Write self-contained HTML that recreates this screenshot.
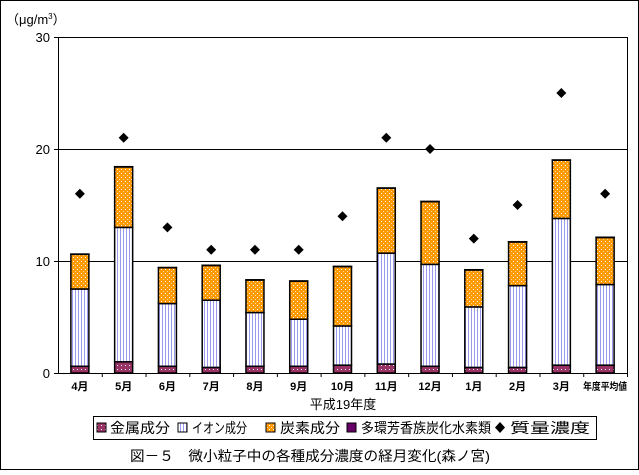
<!DOCTYPE html>
<html><head><meta charset="utf-8"><style>
body{margin:0;background:#fff}
svg text{font-family:"Liberation Sans","Noto Sans CJK JP",sans-serif}
</style></head><body>
<svg width="639" height="470" viewBox="0 0 639 470" xmlns="http://www.w3.org/2000/svg">
<defs>
<pattern id="pm" width="4" height="4" patternUnits="userSpaceOnUse"><rect width="4" height="4" fill="#993366"/><rect x="1" y="1" width="1" height="1" fill="#fff"/></pattern>
<pattern id="pi" width="3" height="3" patternUnits="userSpaceOnUse"><rect width="3" height="3" fill="#fff"/><rect width="1" height="3" fill="#9999ee"/></pattern>
<pattern id="pc" width="4" height="4" patternUnits="userSpaceOnUse"><rect width="4" height="4" fill="#ff9900"/><rect x="1" y="1" width="1" height="1" fill="#fff"/><rect x="3" y="3" width="1" height="1" fill="#ffdd99"/></pattern>
</defs>
<rect x="0.5" y="0.5" width="638" height="469" fill="#fff" stroke="#000"/>
<g id="plot"></g>
<text x="6" y="24" font-size="13">（μg/m<tspan font-size="8" dy="-5">3</tspan><tspan dy="5">）</tspan></text>
<text x="343" y="409" font-size="13" text-anchor="middle">平成19年度</text>
<g>
<rect x="93.5" y="416.5" width="503" height="23" fill="#fff" stroke="#000"/>
<rect x="97" y="423" width="9" height="9" fill="url(#pm)" stroke="#000"/>
<text x="110" y="433" font-size="14" textLength="60" lengthAdjust="spacingAndGlyphs">金属成分</text>
<rect x="178" y="423" width="9" height="9" fill="url(#pi)" stroke="#000"/>
<text x="192" y="433" font-size="14" textLength="55" lengthAdjust="spacingAndGlyphs">イオン成分</text>
<rect x="266" y="423" width="9" height="9" fill="url(#pc)" stroke="#000"/>
<text x="280" y="433" font-size="14" textLength="60" lengthAdjust="spacingAndGlyphs">炭素成分</text>
<rect x="347" y="423" width="9" height="9" fill="#660066" stroke="#000"/>
<text x="361" y="433" font-size="14" textLength="130" lengthAdjust="spacingAndGlyphs">多環芳香族炭化水素類</text>
<path d="M500 422 L505 427.5 L500 433 L495 427.5Z"/>
<text x="510" y="433" font-size="14" textLength="80" lengthAdjust="spacingAndGlyphs">質量濃度</text>
</g>
<text x="130" y="461" font-size="14" textLength="360" lengthAdjust="spacingAndGlyphs">図－５　微小粒子中の各種成分濃度の経月変化(森ノ宮)</text>
</svg>
<script>
const categories=["4月","5月","6月","7月","8月","9月","10月","11月","12月","1月","2月","3月","年度平均値"];
const metal=[0.6,1.0,0.6,0.5,0.6,0.6,0.7,0.8,0.6,0.5,0.5,0.7,0.7];
const ion=[6.9,12.0,5.6,6.0,4.8,4.2,3.5,9.9,9.1,5.4,7.3,13.1,7.2];
const carbon=[3.1,5.4,3.2,3.1,2.9,3.4,5.3,5.8,5.6,3.3,3.9,5.2,4.2];
const pah=[0.02,0.02,0.02,0.02,0.02,0.02,0.02,0.02,0.02,0.02,0.02,0.02,0.02];
const mass=[16,21,13,11,11,11,14,21,20,12,15,25,16];
const yTicks=[0,10,20,30];
const NS="http://www.w3.org/2000/svg";
const L=58,R=627,T=37,B=373,yMax=30;
const y=v=>B-v/yMax*(B-T);
const bw=(R-L)/categories.length;
const xc=i=>L+bw*(i+0.5);
const g=document.getElementById('plot');
function mk(t,a){const e=document.createElementNS(NS,t);for(const k in a)e.setAttribute(k,a[k]);g.appendChild(e);return e;}
let e=mk('rect',{x:L+0.5,y:T+0.5,width:R-L,height:B-T,fill:'#fff',stroke:'#000'});


yTicks.forEach(t=>{
 const l=mk('line',{x1:L-4,x2:R,y1:y(t)+0.5,y2:y(t)+0.5,stroke:'#000'});
 
 
 const tx=mk('text',{x:L-8,y:y(t)+5,'font-size':13,'text-anchor':'end'});tx.textContent=t;
 
 
});
categories.forEach((c,i)=>{
 const tk=mk('line',{x1:L+bw*(i+1)+0.5,x2:L+bw*(i+1)+0.5,y1:B,y2:B+4,stroke:'#000'});
 
 
 const x0=xc(i)-9;let base=0;
 [[metal,'url(#pm)','bar-metal'],[ion,'url(#pi)','bar-ion'],[carbon,'url(#pc)','bar-carbon'],[pah,'#660066','bar-pah']].forEach(([arr,f,n])=>{
  const v=arr[i];const r=mk('rect',{x:x0,y:y(base+v),width:18,height:y(base)-y(base+v),fill:f,stroke:'#000','stroke-width':1.5});
  
  
  base+=v;
 });
 const my=y(mass[i]);
 const m=mk('path',{d:`M${xc(i)} ${my-5}L${xc(i)+5} ${my}L${xc(i)} ${my+5}L${xc(i)-5} ${my}Z`,fill:'#000'});
 
 
 const tx=mk('text',{x:xc(i),y:B+17,'font-size':c.length>3?10:11,'text-anchor':'middle','font-weight':'bold'});tx.textContent=c;
 if(c.length>3){tx.setAttribute('textLength','44');tx.setAttribute('lengthAdjust','spacingAndGlyphs');}
 
 
});
</script>
</body></html>
